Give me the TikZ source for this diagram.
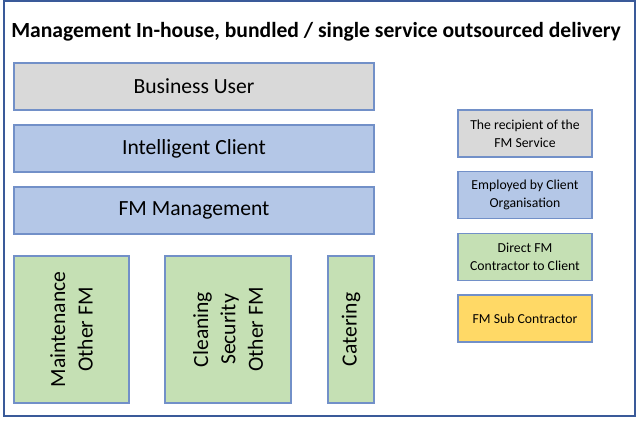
\documentclass[tikz,border=0pt]{standalone}
\usepackage{fontspec}
\setmainfont{Carlito}
\definecolor{usergray}{HTML}{D9D9D9}
\definecolor{clientblue}{HTML}{B4C7E7}
\definecolor{directgreen}{HTML}{C5E0B4}
\definecolor{subyellow}{HTML}{FFD966}
\definecolor{edgeblue}{HTML}{7290C8}
\definecolor{frameblue}{HTML}{3A5A99}
\tikzset{
  tier/.style={draw=edgeblue, line width=0.8pt, minimum width=270pt, minimum height=35.25pt, font=\fontsize{16.2}{19.5}\selectfont},
  service/.style={draw=edgeblue, fill=directgreen, line width=0.8pt, rotate=90, minimum width=110.25pt, align=center, font=\fontsize{16.2}{20.5}\selectfont},
  legend/.style={draw=edgeblue, line width=0.8pt, minimum width=100.5pt, minimum height=35.25pt, align=center, font=\fontsize{10.3}{13.3}\selectfont}
}
\begin{document}
\begin{tikzpicture}[x=0.75pt, y=-0.75pt]
    \useasboundingbox (0,0) rectangle (641,421);
    \draw[frameblue, line width=0.9pt] (4,1) rectangle (635,416);
    \node[anchor=west, inner sep=0pt, font=\fontsize{16.2}{18}\selectfont\bfseries] (title) at (11,32) {Management In-house, bundled / single service outsourced delivery};

    % management tiers
    \node[tier, fill=usergray] (user) at (194,86.5) {Business User};
    \node[tier, fill=clientblue] (client) at (194,148.5) {Intelligent Client};
    \node[tier, fill=clientblue] (fmman) at (194,210.5) {FM Management};

    % service contracts
    \node[service, minimum height=86.25pt] (maint) at (71.5,329.5) {Maintenance\\Other FM};
    \node[service, minimum height=94.5pt] (clean) at (228,329.5) {Cleaning\\Security\\Other FM};
    \node[service, minimum height=34.5pt] (cater) at (351,329.5) {Catering};

    % key
    \node[legend, fill=usergray] (keyuser) at (525,133.5) {The recipient of the\\FM Service};
    \node[legend, fill=clientblue] (keyclient) at (525,195) {Employed by Client\\Organisation};
    \node[legend, fill=directgreen] (keydirect) at (525,257) {Direct FM\\Contractor to Client};
    \node[legend, fill=subyellow] (keysub) at (525,318.5) {FM Sub Contractor};
\end{tikzpicture}
\end{document}
